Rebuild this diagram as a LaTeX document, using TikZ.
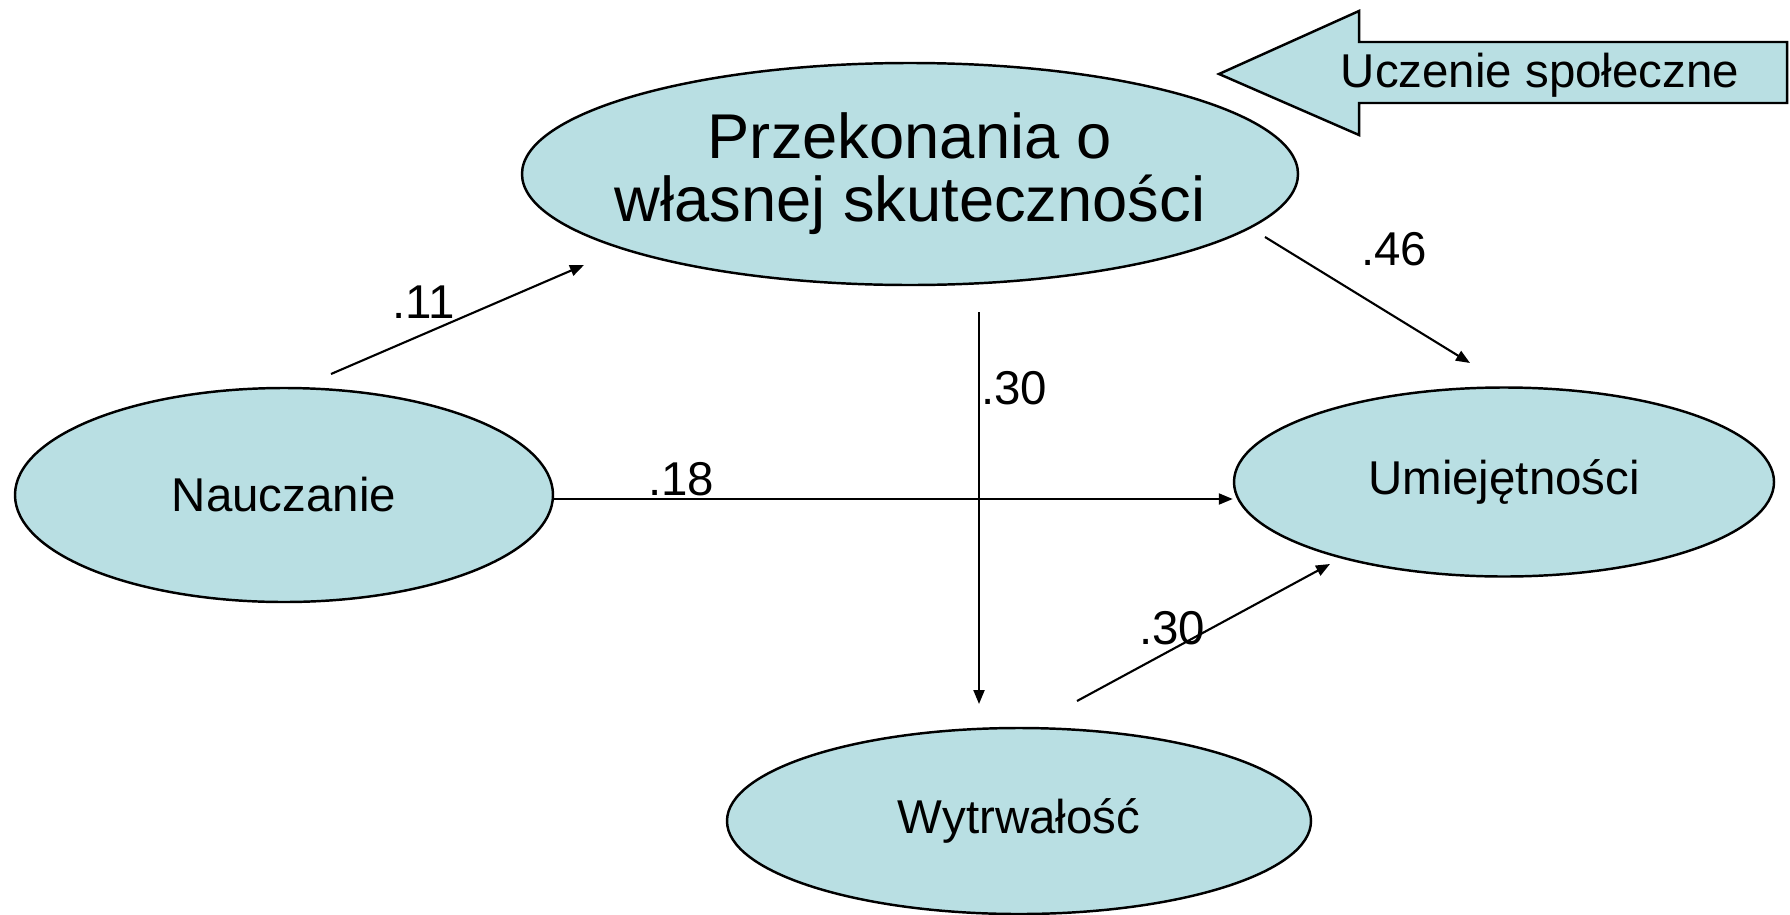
\documentclass[tikz,border=0pt]{standalone}
\usepackage{fontspec}
\setmainfont{Liberation Sans}
\usetikzlibrary{arrows.meta,shapes.geometric}
\begin{document}
\begin{tikzpicture}[
  latent/.style = {ellipse, draw = black, fill = boxblue, line width = 0.7pt, inner sep = 0pt, font = \fontsize{13.5}{16}\selectfont},
  effect/.style = {-{Triangle[length = 1.4mm, width = 1.1mm]}, line width = 0.6pt},
  coef/.style = {inner sep = 0pt, font = \fontsize{13.5}{16}\selectfont}
]
\definecolor{boxblue}{RGB}{185,223,227}
\useasboundingbox (0,0) rectangle (17.9,9.14);
\node[latent, minimum width = 7.76cm, minimum height = 2.22cm, inner xsep = -9mm, align = center, font = \fontsize{18}{18}\selectfont] (przek) at (9.10,7.40) {Przekonania o\\własnej skuteczności};
\node[latent, minimum width = 5.38cm, minimum height = 2.14cm] (naucz) at (2.84,4.19) {Nauczanie};
\node[latent, minimum width = 5.40cm, minimum height = 1.89cm] (umiej) at (15.04,4.32) {Umiejętności};
\node[latent, minimum width = 5.84cm, minimum height = 1.86cm] (wytrw) at (10.19,0.93) {Wytrwałość};
% big arrow
\draw [fill = boxblue, line width = 0.7pt] (12.19,8.40) -- (13.59,9.03) -- (13.59,8.72) -- (17.87,8.72) -- (17.87,8.11) -- (13.59,8.11) -- (13.59,7.79) -- cycle;
\node[coef] (social) at (15.40,8.39) {Uczenie społeczne};
% path ends
\coordinate (n1) at (3.31,5.40);
\coordinate (p1) at (5.84,6.49);
\coordinate (p2) at (12.65,6.77);
\coordinate (u2) at (14.70,5.51);
\coordinate (p3) at (9.79,6.02);
\coordinate (w3) at (9.79,2.10);
\coordinate (w4) at (10.77,2.13);
\coordinate (u4) at (13.30,3.50);
\draw[effect] (n1) -- (p1);
\draw[effect] (p2) -- (u2);
\draw[effect] (p3) -- (w3);
\draw[effect] ([yshift = -0.4mm]naucz.east) -- ([yshift = -0.4mm]naucz.east -| umiej.west);
\draw[effect] (w4) -- (u4);
\node[coef] (c11) at (4.24,6.12) {.11};
\node[coef] (c46) at (13.94,6.65) {.46};
\node[coef] (c30a) at (10.14,5.26) {.30};
\node[coef] (c18) at (6.81,4.35) {.18};
\node[coef] (c30b) at (11.72,2.86) {.30};
\end{tikzpicture}
\end{document}
